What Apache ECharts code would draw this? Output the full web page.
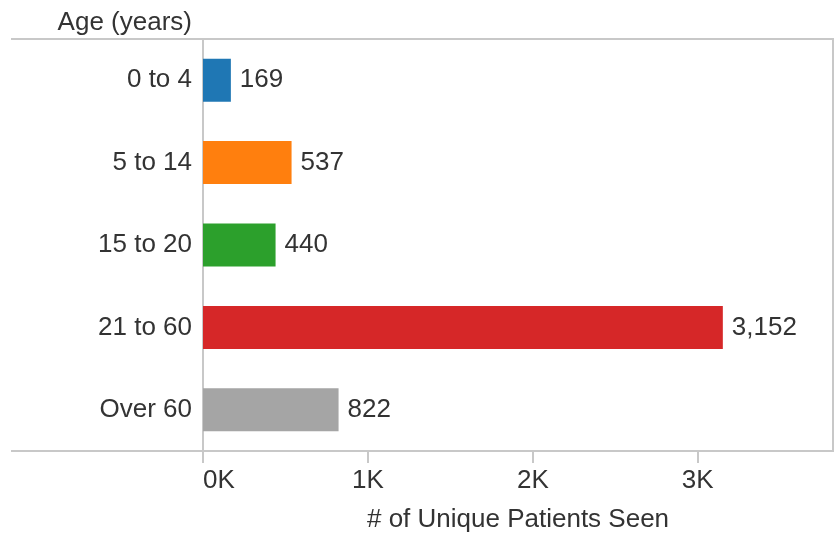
<!DOCTYPE html>
<html>
<head>
<meta charset="utf-8">
<script src="https://cdn.jsdelivr.net/npm/echarts@6/dist/echarts.min.js"></script>
<style>
html,body{margin:0;padding:0;background:#fff;}
#chart{width:838px;height:533px;}
</style>
</head>
<body>
<div id="chart"></div>
<script>
const categories = ['0 to 4', '5 to 14', '15 to 20', '21 to 60', 'Over 60'];
const patients = [169, 537, 440, 3152, 822];
const barColors = ['#1f77b4', '#ff7f0e', '#2ca02c', '#d62728', '#a5a5a5'];
const tickValues = [0, 1000, 2000, 3000];
const axisMax = 3820;
const yTitle = 'Age (years)';
const xTitle = '# of Unique Patients Seen';

const FONT = '"Liberation Sans", Arial, sans-serif';
const TEXT = '#333333';
const LINE = '#c8c8c8';

const chart = echarts.init(document.getElementById('chart'), null, {renderer: 'canvas'});
chart.setOption({
  animation: false,
  backgroundColor: '#ffffff',
  textStyle: {fontFamily: FONT},
  grid: {left: 203, right: 5, top: 39, bottom: 82, containLabel: false, outerBoundsMode: 'none'},
  xAxis: {
    type: 'value',
    min: 0,
    max: axisMax,
    interval: 1000,
    name: xTitle,
    nameLocation: 'middle',
    nameGap: 56,
    nameTextStyle: {fontSize: 26, color: TEXT, fontFamily: FONT},
    axisLine: {show: true, lineStyle: {color: LINE, width: 2}},
    axisTick: {show: true, length: 12, lineStyle: {color: LINE, width: 2}, customValues: tickValues},
    splitLine: {show: false},
    axisLabel: {
      fontSize: 26, color: TEXT, fontFamily: FONT, margin: 17,
      customValues: tickValues,
      alignMinLabel: 'left',
      formatter: v => (v / 1000) + 'K'
    }
  },
  yAxis: {
    type: 'category',
    data: categories,
    inverse: true,
    axisLine: {show: true, lineStyle: {color: LINE, width: 2}},
    axisTick: {show: false},
    axisLabel: {fontSize: 26, color: TEXT, fontFamily: FONT, margin: 11}
  },
  series: [{
    type: 'bar',
    data: patients.map((v, i) => ({value: v, itemStyle: {color: barColors[i]}})),
    barWidth: 43,
    label: {
      show: true,
      position: 'right',
      distance: 9,
      fontSize: 26,
      color: TEXT,
      fontFamily: FONT,
      formatter: p => p.value.toLocaleString('en-US')
    }
  }],
  graphic: [
    {type: 'line', shape: {x1: 11, y1: 39, x2: 834, y2: 39}, style: {stroke: LINE, lineWidth: 2}, z: 10},
    {type: 'line', shape: {x1: 11, y1: 451, x2: 834, y2: 451}, style: {stroke: LINE, lineWidth: 2}, z: 10},
    {type: 'line', shape: {x1: 833, y1: 39, x2: 833, y2: 451}, style: {stroke: LINE, lineWidth: 2}, z: 10},
    {type: 'text', x: 192, y: 23, style: {text: yTitle, fontSize: 26, fill: TEXT, font: '26px ' + FONT, align: 'right', verticalAlign: 'middle'}, z: 10}
  ]
});
</script>
</body>
</html>
